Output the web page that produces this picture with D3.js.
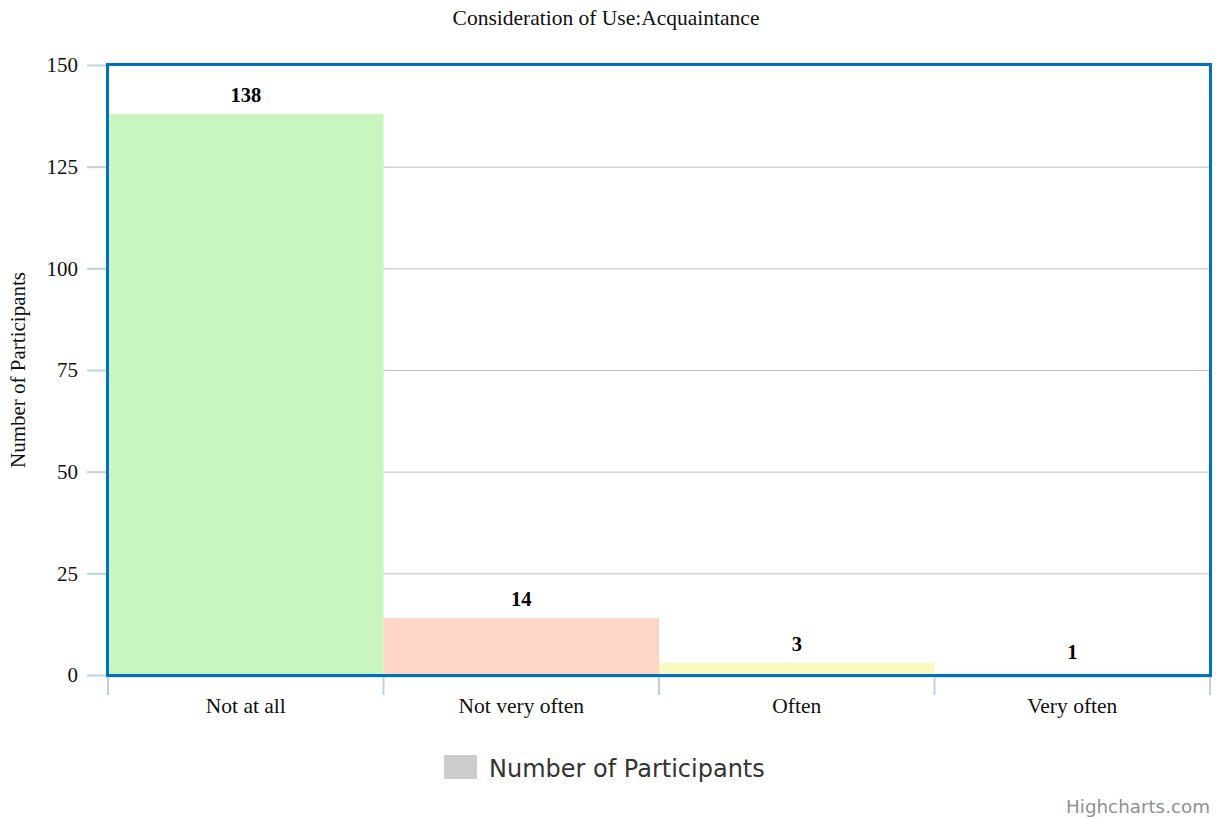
<!DOCTYPE html>
<html>
<head>
<meta charset="utf-8">
<script src="https://cdn.jsdelivr.net/npm/d3@7"></script>
<style>
  html, body { margin: 0; padding: 0; background: #fff; }
  svg { display: block; }
</style>
</head>
<body>
<svg id="chart" width="1216" height="818"></svg>
<script>
// Chart data
const categories = ["Not at all", "Not very often", "Often", "Very often"];
const participants = [138, 14, 3, 1];
const barColors = ["#C9F5BE", "#FFD6C6", "#F8F8C0", "#F6FAFD"];
const yTicks = [0, 25, 50, 75, 100, 125, 150];
const chartTitle = "Consideration of Use:Acquaintance";
const yAxisTitle = "Number of Participants";
const seriesName = "Number of Participants";

const svg = d3.select("#chart");
const plot = { left: 108, right: 1210, top: 65, bottom: 675 };

const x = d3.scaleBand().domain(categories).range([plot.left, plot.right]).padding(0);
const y = d3.scaleLinear().domain([0, 150]).range([plot.bottom, plot.top]);

const serif = "'Liberation Serif', 'Times New Roman', serif";

// Title
svg.append("text")
  .attr("x", 606).attr("y", 25)
  .attr("text-anchor", "middle")
  .attr("font-family", serif).attr("font-size", 21.5)
  .attr("fill", "#111")
  .text(chartTitle);

// Horizontal grid lines
svg.append("g").selectAll("line").data(yTicks).join("line")
  .attr("x1", plot.left).attr("x2", plot.right)
  .attr("y1", d => y(d) + 0.5).attr("y2", d => y(d) + 0.5)
  .attr("stroke", "#BEBEBE").attr("stroke-width", 1);

// Bars
svg.append("g").selectAll("rect").data(participants).join("rect")
  .attr("x", (d, i) => x(categories[i]))
  .attr("width", x.bandwidth())
  .attr("y", d => y(d))
  .attr("height", d => y(0) - y(d))
  .attr("fill", (d, i) => barColors[i]);

// Y axis: tick marks on the left and labels
const yAxis = d3.axisLeft(y).tickValues(yTicks).tickSize(20).tickPadding(9);
const gy = svg.append("g").attr("transform", `translate(${plot.left - 1},0)`).call(yAxis);
gy.select(".domain").remove();
gy.selectAll(".tick line").attr("stroke", "#C0D0E0").attr("stroke-width", 2);
gy.selectAll(".tick text")
  .attr("font-family", serif).attr("font-size", 21).attr("fill", "#111");

// X axis line and boundary ticks
const boundaries = categories.map(c => x(c)).concat([x.range()[1]]);
svg.append("line")
  .attr("x1", plot.left - 1).attr("x2", plot.right + 2)
  .attr("y1", plot.bottom + 1.5).attr("y2", plot.bottom + 1.5)
  .attr("stroke", "#C0D0E0").attr("stroke-width", 2);
svg.append("g").selectAll("line").data(boundaries).join("line")
  .attr("x1", d => d).attr("x2", d => d)
  .attr("y1", plot.bottom).attr("y2", plot.bottom + 20)
  .attr("stroke", "#C0D0E0").attr("stroke-width", 2);

// Category labels
const xAxis = d3.axisBottom(x).tickSize(0).tickPadding(23);
const gx = svg.append("g").attr("transform", `translate(0,${plot.bottom})`).call(xAxis);
gx.select(".domain").remove();
gx.selectAll(".tick text")
  .attr("font-family", serif).attr("font-size", 21.5).attr("fill", "#111");

// Plot border
svg.append("rect")
  .attr("x", plot.left - 0.5).attr("y", plot.top - 0.5)
  .attr("width", plot.right - plot.left + 1).attr("height", plot.bottom - plot.top + 1)
  .attr("fill", "none").attr("stroke", "#0070C0").attr("stroke-width", 3);

// Value labels
svg.append("g").selectAll("text").data(participants).join("text")
  .attr("x", (d, i) => x(categories[i]) + x.bandwidth() / 2)
  .attr("y", d => y(d) - 12)
  .attr("text-anchor", "middle")
  .attr("font-family", serif).attr("font-weight", "bold").attr("font-size", 20.5)
  .attr("fill", "#000")
  .text(d => d);

// Y axis title
svg.append("text")
  .attr("transform", "translate(25,370) rotate(-90)")
  .attr("text-anchor", "middle")
  .attr("font-family", serif).attr("font-size", 21).attr("fill", "#111")
  .text(yAxisTitle);

// Legend
const legend = svg.append("g");
legend.append("rect")
  .attr("x", 444).attr("y", 755).attr("width", 33).attr("height", 24)
  .attr("fill", "#CCCCCC");
legend.append("text")
  .attr("x", 489).attr("y", 777)
  .attr("font-family", "'DejaVu Sans', sans-serif").attr("font-size", 24)
  .attr("fill", "#333")
  .text(seriesName);

// Credits
svg.append("text")
  .attr("x", 1210).attr("y", 813)
  .attr("text-anchor", "end")
  .attr("font-family", "'DejaVu Sans', sans-serif").attr("font-size", 18.3)
  .attr("fill", "#909090")
  .text("Highcharts.com");
</script>
</body>
</html>
